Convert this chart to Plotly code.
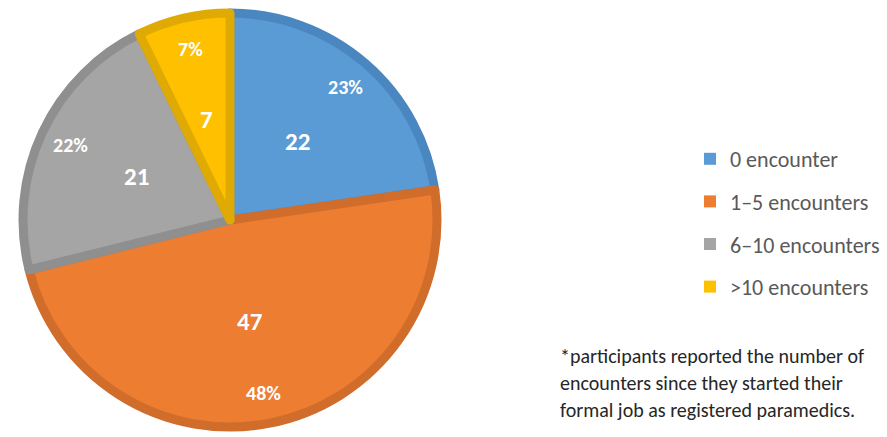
import math
import plotly.graph_objects as go

categories = ["0 encounter", "1–5 encounters", "6–10 encounters", ">10 encounters"]
values = [22, 47, 21, 7]
fill_colors = ["#5B9BD5", "#ED7D31", "#A5A5A5", "#FFC000"]
edge_colors = ["#4A87C0", "#D16D2B", "#8F8F8F", "#E0AA05"]
footnote = [
    "*participants reported the number of",
    "encounters since they started their",
    "formal job as registered paramedics.",
]

W, H = 887, 437
FONT = "Carlito, Lato, 'Open Sans', sans-serif"

# pie geometry (pixels)
cx, cy, R = 230, 220, 207
dom_x = [(cx - R) / W, (cx + R) / W]
dom_y = [1 - (cy + R) / H, 1 - (cy - R) / H]

fig = go.Figure()
fig.add_trace(go.Pie(
    labels=categories, values=values, sort=False, direction="clockwise", rotation=0,
    marker=dict(colors=fill_colors, line=dict(color=edge_colors, width=9)),
    textinfo="none", hoverinfo="label+value+percent", showlegend=False,
    domain=dict(x=dom_x, y=dom_y),
))

# legend entries
for cat, col in zip(categories, fill_colors):
    fig.add_trace(go.Scatter(
        x=[None], y=[None], mode="markers", name=cat, legendgroup=cat,
        marker=dict(symbol="square", size=12, color=col),
        showlegend=True,
    ))

total = sum(values)
annotations = []
cum = 0
for v in values:
    mid = (cum + v / 2) / total * 2 * math.pi
    cum += v
    pct = round(v / total * 100)
    for text, rf, size in ((str(v), 0.50, 25), (f"{pct}%", 0.85, 20)):
        px = cx + rf * R * math.sin(mid)
        py = cy - rf * R * math.cos(mid)
        annotations.append(dict(
            x=px / W, y=1 - py / H, xref="paper", yref="paper", text=f"<b>{text}</b>",
            showarrow=False, font=dict(family=FONT, size=size, color="white"),
            xanchor="center", yanchor="middle",
        ))

for i, line in enumerate(footnote):
    annotations.append(dict(
        x=558 / W, y=1 - (356 + 27 * i) / H, xref="paper", yref="paper", text=line,
        showarrow=False, font=dict(family=FONT, size=20, color="#262626"),
        xanchor="left", yanchor="middle",
    ))

fig.update_layout(
    width=W, height=H, margin=dict(l=0, r=0, t=0, b=0, autoexpand=False),
    paper_bgcolor="white", plot_bgcolor="white",
    xaxis=dict(visible=False), yaxis=dict(visible=False),
    legend=dict(
        x=690 / W, y=1 - 138 / H, xanchor="left", yanchor="top",
        font=dict(family=FONT, size=22, color="#595959"),
        tracegroupgap=11, itemclick=False, itemdoubleclick=False,
        bgcolor="rgba(0,0,0,0)",
    ),
    annotations=annotations,
)

fig.write_html("out.html")
